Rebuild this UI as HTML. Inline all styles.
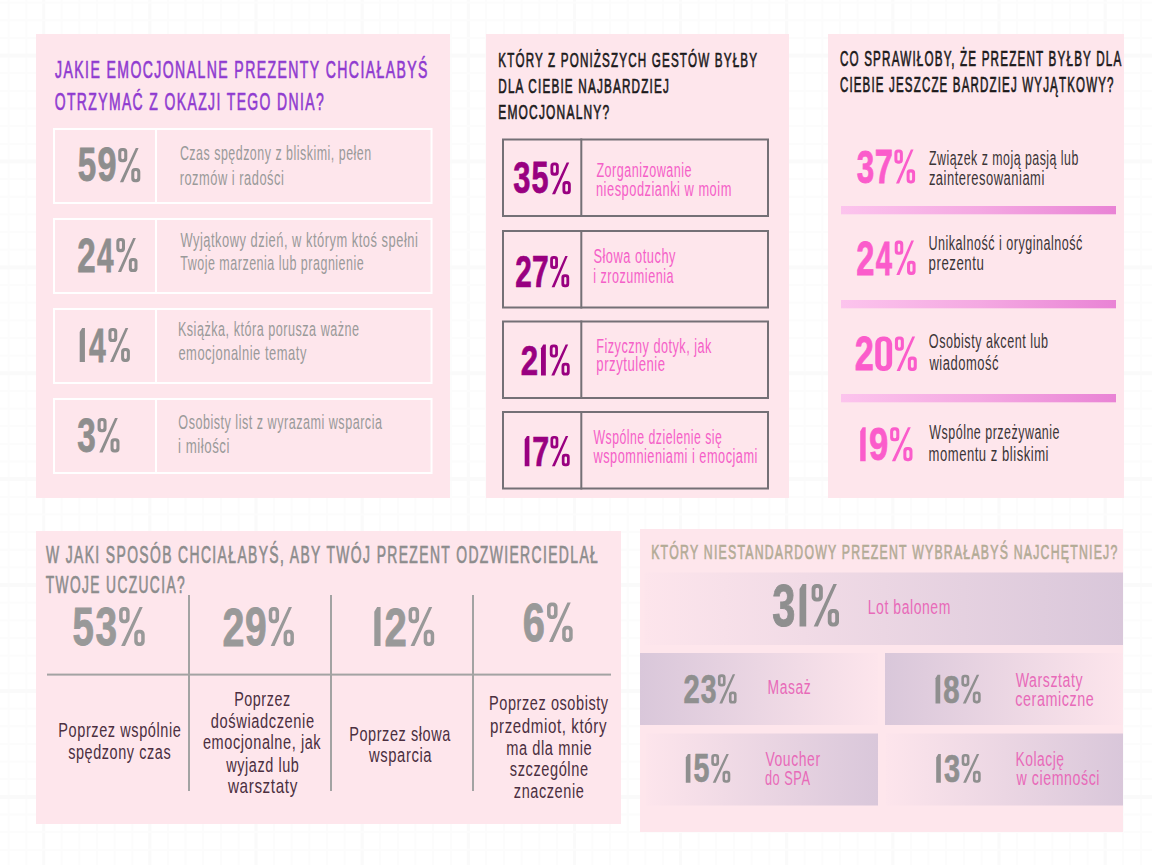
<!DOCTYPE html>
<html><head><meta charset="utf-8"><title>Infografika</title>
<style>html,body{margin:0;padding:0;background:#ffffff;width:1152px;height:865px;overflow:hidden}
svg{display:block;font-family:"Liberation Sans",sans-serif}</style></head>
<body><svg width="1152" height="865" viewBox="0 0 1152 865">
<defs>
<linearGradient id="g3" x1="0" y1="0" x2="1" y2="0"><stop offset="0" stop-color="#fcc4ed"/><stop offset="0.5" stop-color="#f4a9e2"/><stop offset="1" stop-color="#e983d5"/></linearGradient>
<linearGradient id="gPL" x1="0" y1="0" x2="1" y2="0"><stop offset="0" stop-color="#fde5ec"/><stop offset="1" stop-color="#d9c7da"/></linearGradient>
<linearGradient id="gLP" x1="0" y1="0" x2="1" y2="0"><stop offset="0" stop-color="#d9c7da"/><stop offset="1" stop-color="#fde5ec"/></linearGradient>
</defs>
<rect x="0" y="0" width="1152" height="865" fill="#ffffff"/>

<rect x="7.60" y="0.00" width="2.00" height="865.00" fill="#fcfcfc" />
<rect x="25.29" y="0.00" width="2.00" height="865.00" fill="#fcfcfc" />
<rect x="42.18" y="0.00" width="3.10" height="865.00" fill="#fafafa" />
<rect x="60.67" y="0.00" width="2.00" height="865.00" fill="#fcfcfc" />
<rect x="78.36" y="0.00" width="2.00" height="865.00" fill="#fcfcfc" />
<rect x="96.05" y="0.00" width="2.00" height="865.00" fill="#fcfcfc" />
<rect x="113.74" y="0.00" width="2.00" height="865.00" fill="#fcfcfc" />
<rect x="131.43" y="0.00" width="2.00" height="865.00" fill="#fcfcfc" />
<rect x="148.32" y="0.00" width="3.10" height="865.00" fill="#fafafa" />
<rect x="166.81" y="0.00" width="2.00" height="865.00" fill="#fcfcfc" />
<rect x="184.50" y="0.00" width="2.00" height="865.00" fill="#fcfcfc" />
<rect x="202.19" y="0.00" width="2.00" height="865.00" fill="#fcfcfc" />
<rect x="219.88" y="0.00" width="2.00" height="865.00" fill="#fcfcfc" />
<rect x="237.57" y="0.00" width="2.00" height="865.00" fill="#fcfcfc" />
<rect x="254.46" y="0.00" width="3.10" height="865.00" fill="#fafafa" />
<rect x="272.95" y="0.00" width="2.00" height="865.00" fill="#fcfcfc" />
<rect x="290.64" y="0.00" width="2.00" height="865.00" fill="#fcfcfc" />
<rect x="308.33" y="0.00" width="2.00" height="865.00" fill="#fcfcfc" />
<rect x="326.02" y="0.00" width="2.00" height="865.00" fill="#fcfcfc" />
<rect x="343.71" y="0.00" width="2.00" height="865.00" fill="#fcfcfc" />
<rect x="360.60" y="0.00" width="3.10" height="865.00" fill="#fafafa" />
<rect x="379.09" y="0.00" width="2.00" height="865.00" fill="#fcfcfc" />
<rect x="396.78" y="0.00" width="2.00" height="865.00" fill="#fcfcfc" />
<rect x="414.47" y="0.00" width="2.00" height="865.00" fill="#fcfcfc" />
<rect x="432.16" y="0.00" width="2.00" height="865.00" fill="#fcfcfc" />
<rect x="449.85" y="0.00" width="2.00" height="865.00" fill="#fcfcfc" />
<rect x="466.74" y="0.00" width="3.10" height="865.00" fill="#fafafa" />
<rect x="485.23" y="0.00" width="2.00" height="865.00" fill="#fcfcfc" />
<rect x="502.92" y="0.00" width="2.00" height="865.00" fill="#fcfcfc" />
<rect x="520.61" y="0.00" width="2.00" height="865.00" fill="#fcfcfc" />
<rect x="538.30" y="0.00" width="2.00" height="865.00" fill="#fcfcfc" />
<rect x="555.99" y="0.00" width="2.00" height="865.00" fill="#fcfcfc" />
<rect x="572.88" y="0.00" width="3.10" height="865.00" fill="#fafafa" />
<rect x="591.37" y="0.00" width="2.00" height="865.00" fill="#fcfcfc" />
<rect x="609.06" y="0.00" width="2.00" height="865.00" fill="#fcfcfc" />
<rect x="626.75" y="0.00" width="2.00" height="865.00" fill="#fcfcfc" />
<rect x="644.44" y="0.00" width="2.00" height="865.00" fill="#fcfcfc" />
<rect x="662.13" y="0.00" width="2.00" height="865.00" fill="#fcfcfc" />
<rect x="679.02" y="0.00" width="3.10" height="865.00" fill="#fafafa" />
<rect x="697.51" y="0.00" width="2.00" height="865.00" fill="#fcfcfc" />
<rect x="715.20" y="0.00" width="2.00" height="865.00" fill="#fcfcfc" />
<rect x="732.89" y="0.00" width="2.00" height="865.00" fill="#fcfcfc" />
<rect x="750.58" y="0.00" width="2.00" height="865.00" fill="#fcfcfc" />
<rect x="768.27" y="0.00" width="2.00" height="865.00" fill="#fcfcfc" />
<rect x="785.16" y="0.00" width="3.10" height="865.00" fill="#fafafa" />
<rect x="803.65" y="0.00" width="2.00" height="865.00" fill="#fcfcfc" />
<rect x="821.34" y="0.00" width="2.00" height="865.00" fill="#fcfcfc" />
<rect x="839.03" y="0.00" width="2.00" height="865.00" fill="#fcfcfc" />
<rect x="856.72" y="0.00" width="2.00" height="865.00" fill="#fcfcfc" />
<rect x="874.41" y="0.00" width="2.00" height="865.00" fill="#fcfcfc" />
<rect x="891.30" y="0.00" width="3.10" height="865.00" fill="#fafafa" />
<rect x="909.79" y="0.00" width="2.00" height="865.00" fill="#fcfcfc" />
<rect x="927.48" y="0.00" width="2.00" height="865.00" fill="#fcfcfc" />
<rect x="945.17" y="0.00" width="2.00" height="865.00" fill="#fcfcfc" />
<rect x="962.86" y="0.00" width="2.00" height="865.00" fill="#fcfcfc" />
<rect x="980.55" y="0.00" width="2.00" height="865.00" fill="#fcfcfc" />
<rect x="997.44" y="0.00" width="3.10" height="865.00" fill="#fafafa" />
<rect x="1015.93" y="0.00" width="2.00" height="865.00" fill="#fcfcfc" />
<rect x="1033.62" y="0.00" width="2.00" height="865.00" fill="#fcfcfc" />
<rect x="1051.31" y="0.00" width="2.00" height="865.00" fill="#fcfcfc" />
<rect x="1069.00" y="0.00" width="2.00" height="865.00" fill="#fcfcfc" />
<rect x="1086.69" y="0.00" width="2.00" height="865.00" fill="#fcfcfc" />
<rect x="1103.58" y="0.00" width="3.10" height="865.00" fill="#fafafa" />
<rect x="1122.07" y="0.00" width="2.00" height="865.00" fill="#fcfcfc" />
<rect x="1139.76" y="0.00" width="2.00" height="865.00" fill="#fcfcfc" />
<rect x="0.00" y="1.60" width="1152.00" height="2.00" fill="#fcfcfc" />
<rect x="0.00" y="19.25" width="1152.00" height="2.00" fill="#fcfcfc" />
<rect x="0.00" y="36.90" width="1152.00" height="2.00" fill="#fcfcfc" />
<rect x="0.00" y="53.55" width="1152.00" height="4.00" fill="#fafafa" />
<rect x="0.00" y="72.20" width="1152.00" height="2.00" fill="#fcfcfc" />
<rect x="0.00" y="89.85" width="1152.00" height="2.00" fill="#fcfcfc" />
<rect x="0.00" y="107.50" width="1152.00" height="2.00" fill="#fcfcfc" />
<rect x="0.00" y="125.15" width="1152.00" height="2.00" fill="#fcfcfc" />
<rect x="0.00" y="142.80" width="1152.00" height="2.00" fill="#fcfcfc" />
<rect x="0.00" y="159.45" width="1152.00" height="4.00" fill="#fafafa" />
<rect x="0.00" y="178.10" width="1152.00" height="2.00" fill="#fcfcfc" />
<rect x="0.00" y="195.75" width="1152.00" height="2.00" fill="#fcfcfc" />
<rect x="0.00" y="213.40" width="1152.00" height="2.00" fill="#fcfcfc" />
<rect x="0.00" y="231.05" width="1152.00" height="2.00" fill="#fcfcfc" />
<rect x="0.00" y="248.70" width="1152.00" height="2.00" fill="#fcfcfc" />
<rect x="0.00" y="265.35" width="1152.00" height="4.00" fill="#fafafa" />
<rect x="0.00" y="284.00" width="1152.00" height="2.00" fill="#fcfcfc" />
<rect x="0.00" y="301.65" width="1152.00" height="2.00" fill="#fcfcfc" />
<rect x="0.00" y="319.30" width="1152.00" height="2.00" fill="#fcfcfc" />
<rect x="0.00" y="336.95" width="1152.00" height="2.00" fill="#fcfcfc" />
<rect x="0.00" y="354.60" width="1152.00" height="2.00" fill="#fcfcfc" />
<rect x="0.00" y="371.25" width="1152.00" height="4.00" fill="#fafafa" />
<rect x="0.00" y="389.90" width="1152.00" height="2.00" fill="#fcfcfc" />
<rect x="0.00" y="407.55" width="1152.00" height="2.00" fill="#fcfcfc" />
<rect x="0.00" y="425.20" width="1152.00" height="2.00" fill="#fcfcfc" />
<rect x="0.00" y="442.85" width="1152.00" height="2.00" fill="#fcfcfc" />
<rect x="0.00" y="460.50" width="1152.00" height="2.00" fill="#fcfcfc" />
<rect x="0.00" y="477.15" width="1152.00" height="4.00" fill="#fafafa" />
<rect x="0.00" y="495.80" width="1152.00" height="2.00" fill="#fcfcfc" />
<rect x="0.00" y="513.45" width="1152.00" height="2.00" fill="#fcfcfc" />
<rect x="0.00" y="531.10" width="1152.00" height="2.00" fill="#fcfcfc" />
<rect x="0.00" y="548.75" width="1152.00" height="2.00" fill="#fcfcfc" />
<rect x="0.00" y="566.40" width="1152.00" height="2.00" fill="#fcfcfc" />
<rect x="0.00" y="583.05" width="1152.00" height="4.00" fill="#fafafa" />
<rect x="0.00" y="601.70" width="1152.00" height="2.00" fill="#fcfcfc" />
<rect x="0.00" y="619.35" width="1152.00" height="2.00" fill="#fcfcfc" />
<rect x="0.00" y="637.00" width="1152.00" height="2.00" fill="#fcfcfc" />
<rect x="0.00" y="654.65" width="1152.00" height="2.00" fill="#fcfcfc" />
<rect x="0.00" y="672.30" width="1152.00" height="2.00" fill="#fcfcfc" />
<rect x="0.00" y="688.95" width="1152.00" height="4.00" fill="#fafafa" />
<rect x="0.00" y="707.60" width="1152.00" height="2.00" fill="#fcfcfc" />
<rect x="0.00" y="725.25" width="1152.00" height="2.00" fill="#fcfcfc" />
<rect x="0.00" y="742.90" width="1152.00" height="2.00" fill="#fcfcfc" />
<rect x="0.00" y="760.55" width="1152.00" height="2.00" fill="#fcfcfc" />
<rect x="0.00" y="778.20" width="1152.00" height="2.00" fill="#fcfcfc" />
<rect x="0.00" y="794.85" width="1152.00" height="4.00" fill="#fafafa" />
<rect x="0.00" y="813.50" width="1152.00" height="2.00" fill="#fcfcfc" />
<rect x="0.00" y="831.15" width="1152.00" height="2.00" fill="#fcfcfc" />
<rect x="0.00" y="848.80" width="1152.00" height="2.00" fill="#fcfcfc" />
<rect x="0.00" y="866.45" width="1152.00" height="2.00" fill="#fcfcfc" />
<rect x="36.00" y="34.00" width="414.00" height="464.00" fill="#fee6ec" />
<rect x="486.00" y="34.00" width="303.00" height="464.00" fill="#fee6ec" />
<rect x="828.00" y="34.00" width="296.00" height="464.00" fill="#fee6ec" />
<rect x="36.00" y="531.00" width="585.00" height="293.00" fill="#fee6ec" />
<rect x="640.00" y="529.00" width="483.00" height="303.00" fill="#fee6ec" />
<text transform="matrix(0.5792 0 0 1 55.06 78.32)" font-size="24.30" letter-spacing="2.43" fill="#8f3ad0" stroke="#8f3ad0" stroke-width="0.55" vector-effect="non-scaling-stroke">JAKIE EMOCJONALNE PREZENTY CHCIAŁABYŚ</text>
<text transform="matrix(0.5744 0 0 1 54.65 109.72)" font-size="24.30" letter-spacing="2.43" fill="#8f3ad0" stroke="#8f3ad0" stroke-width="0.55" vector-effect="non-scaling-stroke">OTRZYMAĆ Z OKAZJI TEGO DNIA?</text>
<rect x="54" y="129" width="377.5" height="74" fill="none" stroke="#ffffff" stroke-width="2"/>
<rect x="155.00" y="128.00" width="2.00" height="76.00" fill="#ffffff" />
<rect x="54" y="219" width="377.5" height="74" fill="none" stroke="#ffffff" stroke-width="2"/>
<rect x="155.00" y="218.00" width="2.00" height="76.00" fill="#ffffff" />
<rect x="54" y="309" width="377.5" height="74" fill="none" stroke="#ffffff" stroke-width="2"/>
<rect x="155.00" y="308.00" width="2.00" height="76.00" fill="#ffffff" />
<rect x="54" y="399" width="377.5" height="74" fill="none" stroke="#ffffff" stroke-width="2"/>
<rect x="155.00" y="398.00" width="2.00" height="76.00" fill="#ffffff" />
<text transform="matrix(0.6931 0 0 1 77.83 181.42)" font-size="47.85" font-weight="700" fill="#8e8e8e" stroke="#8e8e8e" stroke-width="0.81" stroke-linejoin="miter">5</text>
<text transform="matrix(0.7247 0 0 1 97.44 181.42)" font-size="47.17" font-weight="700" fill="#8e8e8e" stroke="#8e8e8e" stroke-width="0.81" stroke-linejoin="miter">9</text>
<path fill-rule="evenodd" d="M122.03 148.00H123.48A3.80 3.80 0 0 1 127.28 151.80V158.43A3.80 3.80 0 0 1 123.48 162.23H122.03A3.80 3.80 0 0 1 118.23 158.43V151.80A3.80 3.80 0 0 1 122.03 148.00ZM122.75 151.05H122.75A1.47 1.47 0 0 1 124.22 152.52V157.71A1.47 1.47 0 0 1 122.75 159.18H122.75A1.47 1.47 0 0 1 121.28 157.71V152.52A1.47 1.47 0 0 1 122.75 151.05ZM135.05 168.07H136.50A3.80 3.80 0 0 1 140.30 171.87V178.50A3.80 3.80 0 0 1 136.50 182.30H135.05A3.80 3.80 0 0 1 131.25 178.50V171.87A3.80 3.80 0 0 1 135.05 168.07ZM135.78 171.12H135.78A1.47 1.47 0 0 1 137.25 172.59V177.78A1.47 1.47 0 0 1 135.78 179.25H135.78A1.47 1.47 0 0 1 134.30 177.78V172.59A1.47 1.47 0 0 1 135.78 171.12ZM119.93 182.30L123.30 182.30L138.60 148.00L135.78 148.00Z" fill="#8e8e8e"/>
<text transform="matrix(0.6961 0 0 1 77.37 271.70)" font-size="47.57" font-weight="700" fill="#8e8e8e" stroke="#8e8e8e" stroke-width="0.80" stroke-linejoin="miter">2</text>
<text transform="matrix(0.6156 0 0 1 97.09 271.70)" font-size="48.26" font-weight="700" fill="#8e8e8e" stroke="#8e8e8e" stroke-width="0.80" stroke-linejoin="miter">4</text>
<path fill-rule="evenodd" d="M119.97 238.00H121.36A3.65 3.65 0 0 1 125.00 241.65V248.50A3.65 3.65 0 0 1 121.36 252.15H119.97A3.65 3.65 0 0 1 116.32 248.50V241.65A3.65 3.65 0 0 1 119.97 238.00ZM120.66 241.03H120.66A1.31 1.31 0 0 1 121.97 242.34V247.81A1.31 1.31 0 0 1 120.66 249.12H120.66A1.31 1.31 0 0 1 119.36 247.81V242.34A1.31 1.31 0 0 1 120.66 241.03ZM132.46 257.95H133.85A3.65 3.65 0 0 1 137.50 261.60V268.45A3.65 3.65 0 0 1 133.85 272.10H132.46A3.65 3.65 0 0 1 128.82 268.45V261.60A3.65 3.65 0 0 1 132.46 257.95ZM133.16 260.98H133.16A1.31 1.31 0 0 1 134.47 262.29V267.76A1.31 1.31 0 0 1 133.16 269.07H133.16A1.31 1.31 0 0 1 131.85 267.76V262.29A1.31 1.31 0 0 1 133.16 260.98ZM117.95 272.10L121.19 272.10L135.87 238.00L133.16 238.00Z" fill="#8e8e8e"/>
<path d="M79.70 332.08L82.18 328.00L84.94 328.00L84.94 362.00L79.70 362.00Z" fill="#8e8e8e"/>
<text transform="matrix(0.6261 0 0 1 88.94 361.60)" font-size="48.12" font-weight="700" fill="#8e8e8e" stroke="#8e8e8e" stroke-width="0.80" stroke-linejoin="miter">4</text>
<path fill-rule="evenodd" d="M112.13 328.00H113.54A3.70 3.70 0 0 1 117.24 331.70V338.41A3.70 3.70 0 0 1 113.54 342.11H112.13A3.70 3.70 0 0 1 108.43 338.41V331.70A3.70 3.70 0 0 1 112.13 328.00ZM112.83 331.03H112.83A1.37 1.37 0 0 1 114.21 332.40V337.71A1.37 1.37 0 0 1 112.83 339.08H112.83A1.37 1.37 0 0 1 111.46 337.71V332.40A1.37 1.37 0 0 1 112.83 331.03ZM124.80 347.89H126.20A3.70 3.70 0 0 1 129.90 351.59V358.30A3.70 3.70 0 0 1 126.20 362.00H124.80A3.70 3.70 0 0 1 121.10 358.30V351.59A3.70 3.70 0 0 1 124.80 347.89ZM125.50 350.92H125.50A1.37 1.37 0 0 1 126.87 352.29V357.60A1.37 1.37 0 0 1 125.50 358.97H125.50A1.37 1.37 0 0 1 124.12 357.60V352.29A1.37 1.37 0 0 1 125.50 350.92ZM110.09 362.00L113.37 362.00L128.25 328.00L125.50 328.00Z" fill="#8e8e8e"/>
<text transform="matrix(0.7009 0 0 1 77.30 451.62)" font-size="47.45" font-weight="700" fill="#8e8e8e" stroke="#8e8e8e" stroke-width="0.81" stroke-linejoin="miter">3</text>
<path fill-rule="evenodd" d="M101.35 418.00H102.79A3.77 3.77 0 0 1 106.57 421.77V428.54A3.77 3.77 0 0 1 102.79 432.32H101.35A3.77 3.77 0 0 1 97.58 428.54V421.77A3.77 3.77 0 0 1 101.35 418.00ZM102.07 421.07H102.07A1.42 1.42 0 0 1 103.50 422.49V427.82A1.42 1.42 0 0 1 102.07 429.25H102.07A1.42 1.42 0 0 1 100.65 427.82V422.49A1.42 1.42 0 0 1 102.07 421.07ZM114.29 438.18H115.73A3.77 3.77 0 0 1 119.50 441.96V448.73A3.77 3.77 0 0 1 115.73 452.50H114.29A3.77 3.77 0 0 1 110.51 448.73V441.96A3.77 3.77 0 0 1 114.29 438.18ZM115.01 441.25H115.01A1.42 1.42 0 0 1 116.43 442.68V448.01A1.42 1.42 0 0 1 115.01 449.43H115.01A1.42 1.42 0 0 1 113.58 448.01V442.68A1.42 1.42 0 0 1 115.01 441.25ZM99.27 452.50L102.62 452.50L117.81 418.00L115.01 418.00Z" fill="#8e8e8e"/>
<text transform="matrix(0.6319 0 0 1 179.88 160.30)" font-size="19.70" letter-spacing="0.79" fill="#9a9a9a">Czas spędzony z bliskimi, pełen</text>
<text transform="matrix(0.6528 0 0 1 179.66 184.70)" font-size="19.70" letter-spacing="0.79" fill="#9a9a9a">rozmów i radości</text>
<text transform="matrix(0.6542 0 0 1 180.44 246.50)" font-size="19.70" letter-spacing="0.79" fill="#9a9a9a">Wyjątkowy dzień, w którym ktoś spełni</text>
<text transform="matrix(0.6347 0 0 1 180.25 270.40)" font-size="19.70" letter-spacing="0.79" fill="#9a9a9a">Twoje marzenia lub pragnienie</text>
<text transform="matrix(0.6409 0 0 1 177.89 336.20)" font-size="19.70" letter-spacing="0.79" fill="#9a9a9a">Książka, która porusza ważne</text>
<text transform="matrix(0.6571 0 0 1 178.38 360.40)" font-size="19.70" letter-spacing="0.79" fill="#9a9a9a">emocjonalnie tematy</text>
<text transform="matrix(0.6397 0 0 1 178.33 429.30)" font-size="19.70" letter-spacing="0.79" fill="#9a9a9a">Osobisty list z wyrazami wsparcia</text>
<text transform="matrix(0.6737 0 0 1 178.04 452.70)" font-size="19.70" letter-spacing="0.79" fill="#9a9a9a">i miłości</text>
<text transform="matrix(0.5595 0 0 1 498.24 67.02)" font-size="20.80" letter-spacing="2.08" fill="#1c1a1b" stroke="#1c1a1b" stroke-width="0.55" vector-effect="non-scaling-stroke">KTÓRY Z PONIŻSZYCH GESTÓW BYŁBY</text>
<text transform="matrix(0.5642 0 0 1 498.24 93.12)" font-size="20.80" letter-spacing="2.08" fill="#1c1a1b" stroke="#1c1a1b" stroke-width="0.55" vector-effect="non-scaling-stroke">DLA CIEBIE NAJBARDZIEJ</text>
<text transform="matrix(0.5757 0 0 1 498.22 119.42)" font-size="20.80" letter-spacing="2.08" fill="#1c1a1b" stroke="#1c1a1b" stroke-width="0.55" vector-effect="non-scaling-stroke">EMOCJONALNY?</text>
<rect x="503" y="139.50" width="265" height="76.5" fill="none" stroke="#747076" stroke-width="2"/>
<rect x="580.30" y="138.50" width="2.00" height="78.50" fill="#747076" />
<rect x="503" y="231.00" width="265" height="76.5" fill="none" stroke="#747076" stroke-width="2"/>
<rect x="580.30" y="230.00" width="2.00" height="78.50" fill="#747076" />
<rect x="503" y="321.50" width="265" height="76.5" fill="none" stroke="#747076" stroke-width="2"/>
<rect x="580.30" y="320.50" width="2.00" height="78.50" fill="#747076" />
<rect x="503" y="412.00" width="265" height="76.5" fill="none" stroke="#747076" stroke-width="2"/>
<rect x="580.30" y="411.00" width="2.00" height="78.50" fill="#747076" />
<text transform="matrix(0.7039 0 0 1 513.34 193.49)" font-size="43.87" font-weight="700" fill="#990080" stroke="#990080" stroke-width="0.75" stroke-linejoin="miter">3</text>
<text transform="matrix(0.6871 0 0 1 531.47 193.48)" font-size="44.50" font-weight="700" fill="#990080" stroke="#990080" stroke-width="0.75" stroke-linejoin="miter">5</text>
<path fill-rule="evenodd" d="M553.95 162.40H555.28A3.51 3.51 0 0 1 558.79 165.91V172.13A3.51 3.51 0 0 1 555.28 175.64H553.95A3.51 3.51 0 0 1 550.44 172.13V165.91A3.51 3.51 0 0 1 553.95 162.40ZM554.62 165.24H554.62A1.33 1.33 0 0 1 555.95 166.57V171.47A1.33 1.33 0 0 1 554.62 172.80H554.62A1.33 1.33 0 0 1 553.28 171.47V166.57A1.33 1.33 0 0 1 554.62 165.24ZM565.96 181.06H567.29A3.51 3.51 0 0 1 570.80 184.57V190.79A3.51 3.51 0 0 1 567.29 194.30H565.96A3.51 3.51 0 0 1 562.45 190.79V184.57A3.51 3.51 0 0 1 565.96 181.06ZM566.63 183.90H566.63A1.33 1.33 0 0 1 567.96 185.23V190.13A1.33 1.33 0 0 1 566.63 191.46H566.63A1.33 1.33 0 0 1 565.29 190.13V185.23A1.33 1.33 0 0 1 566.63 183.90ZM552.01 194.30L555.13 194.30L569.23 162.40L566.63 162.40Z" fill="#990080"/>
<text transform="matrix(0.6788 0 0 1 515.17 286.93)" font-size="43.80" font-weight="700" fill="#990080" stroke="#990080" stroke-width="0.74" stroke-linejoin="miter">2</text>
<text transform="matrix(0.6762 0 0 1 532.09 286.93)" font-size="44.44" font-weight="700" fill="#990080" stroke="#990080" stroke-width="0.74" stroke-linejoin="miter">7</text>
<path fill-rule="evenodd" d="M553.45 255.90H554.69A3.28 3.28 0 0 1 557.97 259.18V265.65A3.28 3.28 0 0 1 554.69 268.93H553.45A3.28 3.28 0 0 1 550.17 265.65V259.18A3.28 3.28 0 0 1 553.45 255.90ZM554.07 258.69H554.07A1.11 1.11 0 0 1 555.18 259.80V265.03A1.11 1.11 0 0 1 554.07 266.14H554.07A1.11 1.11 0 0 1 552.96 265.03V259.80A1.11 1.11 0 0 1 554.07 258.69ZM564.67 274.27H565.92A3.28 3.28 0 0 1 569.20 277.55V284.02A3.28 3.28 0 0 1 565.92 287.30H564.67A3.28 3.28 0 0 1 561.40 284.02V277.55A3.28 3.28 0 0 1 564.67 274.27ZM565.30 277.06H565.30A1.11 1.11 0 0 1 566.41 278.17V283.40A1.11 1.11 0 0 1 565.30 284.51H565.30A1.11 1.11 0 0 1 564.19 283.40V278.17A1.11 1.11 0 0 1 565.30 277.06ZM551.63 287.30L554.55 287.30L567.73 255.90L565.30 255.90Z" fill="#990080"/>
<text transform="matrix(0.7209 0 0 1 520.81 375.24)" font-size="43.24" font-weight="700" fill="#990080" stroke="#990080" stroke-width="0.73" stroke-linejoin="miter">2</text>
<path d="M540.99 348.32L543.26 344.60L545.86 344.60L545.86 375.60L540.99 375.60Z" fill="#990080"/>
<path fill-rule="evenodd" d="M553.21 344.60H554.52A3.43 3.43 0 0 1 557.95 348.03V354.03A3.43 3.43 0 0 1 554.52 357.47H553.21A3.43 3.43 0 0 1 549.78 354.03V348.03A3.43 3.43 0 0 1 553.21 344.60ZM553.86 347.36H553.86A1.32 1.32 0 0 1 555.19 348.68V353.38A1.32 1.32 0 0 1 553.86 354.71H553.86A1.32 1.32 0 0 1 552.54 353.38V348.68A1.32 1.32 0 0 1 553.86 347.36ZM564.96 362.74H566.27A3.43 3.43 0 0 1 569.70 366.17V372.17A3.43 3.43 0 0 1 566.27 375.60H564.96A3.43 3.43 0 0 1 561.53 372.17V366.17A3.43 3.43 0 0 1 564.96 362.74ZM565.62 365.49H565.62A1.32 1.32 0 0 1 566.94 366.82V371.52A1.32 1.32 0 0 1 565.62 372.84H565.62A1.32 1.32 0 0 1 564.29 371.52V366.82A1.32 1.32 0 0 1 565.62 365.49ZM551.31 375.60L554.36 375.60L568.17 344.60L565.62 344.60Z" fill="#990080"/>
<path d="M524.70 439.55L526.92 435.90L529.40 435.90L529.40 466.30L524.70 466.30Z" fill="#990080"/>
<text transform="matrix(0.7070 0 0 1 532.17 465.94)" font-size="43.02" font-weight="700" fill="#990080" stroke="#990080" stroke-width="0.72" stroke-linejoin="miter">7</text>
<path fill-rule="evenodd" d="M553.77 435.90H555.03A3.31 3.31 0 0 1 558.35 439.21V445.20A3.31 3.31 0 0 1 555.03 448.52H553.77A3.31 3.31 0 0 1 550.46 445.20V439.21A3.31 3.31 0 0 1 553.77 435.90ZM554.40 438.61H554.40A1.24 1.24 0 0 1 555.64 439.84V444.57A1.24 1.24 0 0 1 554.40 445.81H554.40A1.24 1.24 0 0 1 553.16 444.57V439.84A1.24 1.24 0 0 1 554.40 438.61ZM565.12 453.68H566.39A3.31 3.31 0 0 1 569.70 457.00V462.99A3.31 3.31 0 0 1 566.39 466.30H565.12A3.31 3.31 0 0 1 561.81 462.99V457.00A3.31 3.31 0 0 1 565.12 453.68ZM565.76 456.39H565.76A1.24 1.24 0 0 1 566.99 457.63V462.36A1.24 1.24 0 0 1 565.76 463.59H565.76A1.24 1.24 0 0 1 564.52 462.36V457.63A1.24 1.24 0 0 1 565.76 456.39ZM551.94 466.30L554.88 466.30L568.22 435.90L565.76 435.90Z" fill="#990080"/>
<text transform="matrix(0.6411 0 0 1 596.42 176.50)" font-size="19.60" letter-spacing="0.78" fill="#f560c8">Zorganizowanie</text>
<text transform="matrix(0.6559 0 0 1 595.96 196.30)" font-size="19.60" letter-spacing="0.78" fill="#f560c8">niespodzianki w moim</text>
<text transform="matrix(0.6561 0 0 1 593.42 263.30)" font-size="19.60" letter-spacing="0.78" fill="#f560c8">Słowa otuchy</text>
<text transform="matrix(0.6441 0 0 1 593.18 283.10)" font-size="19.60" letter-spacing="0.78" fill="#f560c8">i zrozumienia</text>
<text transform="matrix(0.6458 0 0 1 596.19 352.60)" font-size="19.60" letter-spacing="0.78" fill="#f560c8">Fizyczny dotyk, jak</text>
<text transform="matrix(0.6700 0 0 1 596.35 370.60)" font-size="19.60" letter-spacing="0.78" fill="#f560c8">przytulenie</text>
<text transform="matrix(0.6262 0 0 1 593.44 444.00)" font-size="19.60" letter-spacing="0.78" fill="#f560c8">Wspólne dzielenie się</text>
<text transform="matrix(0.6509 0 0 1 593.50 463.10)" font-size="19.60" letter-spacing="0.78" fill="#f560c8">wspomnieniami i emocjami</text>
<text transform="matrix(0.5512 0 0 1 839.89 66.42)" font-size="21.20" letter-spacing="2.12" fill="#1c1a1b" stroke="#1c1a1b" stroke-width="0.55" vector-effect="non-scaling-stroke">CO SPRAWIŁOBY, ŻE PREZENT BYŁBY DLA</text>
<text transform="matrix(0.5450 0 0 1 839.90 92.42)" font-size="21.20" letter-spacing="2.12" fill="#1c1a1b" stroke="#1c1a1b" stroke-width="0.55" vector-effect="non-scaling-stroke">CIEBIE JESZCZE BARDZIEJ WYJĄTKOWY?</text>
<rect x="841.00" y="206.00" width="275.00" height="8.30" fill="url(#g3)" />
<rect x="841.00" y="300.00" width="275.00" height="8.30" fill="url(#g3)" />
<rect x="841.00" y="394.00" width="275.00" height="8.30" fill="url(#g3)" />
<text transform="matrix(0.6753 0 0 1 856.64 182.54)" font-size="46.49" font-weight="700" fill="#fb5ccb" stroke="#fb5ccb" stroke-width="0.80" stroke-linejoin="miter">3</text>
<text transform="matrix(0.6839 0 0 1 874.71 183.00)" font-size="47.83" font-weight="700" fill="#fb5ccb" stroke="#fb5ccb" stroke-width="0.80" stroke-linejoin="miter">7</text>
<path fill-rule="evenodd" d="M897.95 149.60H899.31A3.57 3.57 0 0 1 902.88 153.17V160.06A3.57 3.57 0 0 1 899.31 163.63H897.95A3.57 3.57 0 0 1 894.39 160.06V153.17A3.57 3.57 0 0 1 897.95 149.60ZM898.63 152.61H898.63A1.24 1.24 0 0 1 899.87 153.85V159.38A1.24 1.24 0 0 1 898.63 160.62H898.63A1.24 1.24 0 0 1 897.39 159.38V153.85A1.24 1.24 0 0 1 898.63 152.61ZM910.17 169.37H911.53A3.57 3.57 0 0 1 915.10 172.94V179.83A3.57 3.57 0 0 1 911.53 183.40H910.17A3.57 3.57 0 0 1 906.61 179.83V172.94A3.57 3.57 0 0 1 910.17 169.37ZM910.85 172.38H910.85A1.24 1.24 0 0 1 912.09 173.62V179.15A1.24 1.24 0 0 1 910.85 180.39H910.85A1.24 1.24 0 0 1 909.62 179.15V173.62A1.24 1.24 0 0 1 910.85 172.38ZM895.98 183.40L899.15 183.40L913.51 149.60L910.85 149.60Z" fill="#fb5ccb"/>
<text transform="matrix(0.6823 0 0 1 856.28 274.50)" font-size="47.85" font-weight="700" fill="#fb5ccb" stroke="#fb5ccb" stroke-width="0.81" stroke-linejoin="miter">2</text>
<text transform="matrix(0.6034 0 0 1 875.74 274.50)" font-size="48.54" font-weight="700" fill="#fb5ccb" stroke="#fb5ccb" stroke-width="0.81" stroke-linejoin="miter">4</text>
<path fill-rule="evenodd" d="M898.31 240.60H899.68A3.60 3.60 0 0 1 903.27 244.20V251.24A3.60 3.60 0 0 1 899.68 254.83H898.31A3.60 3.60 0 0 1 894.71 251.24V244.20A3.60 3.60 0 0 1 898.31 240.60ZM898.99 243.65H898.99A1.23 1.23 0 0 1 900.22 244.88V250.55A1.23 1.23 0 0 1 898.99 251.78H898.99A1.23 1.23 0 0 1 897.76 250.55V244.88A1.23 1.23 0 0 1 898.99 243.65ZM910.63 260.67H912.00A3.60 3.60 0 0 1 915.60 264.26V271.30A3.60 3.60 0 0 1 912.00 274.90H910.63A3.60 3.60 0 0 1 907.03 271.30V264.26A3.60 3.60 0 0 1 910.63 260.67ZM911.32 263.72H911.32A1.23 1.23 0 0 1 912.55 264.95V270.62A1.23 1.23 0 0 1 911.32 271.85H911.32A1.23 1.23 0 0 1 910.09 270.62V264.95A1.23 1.23 0 0 1 911.32 263.72ZM896.32 274.90L899.51 274.90L913.99 240.60L911.32 240.60Z" fill="#fb5ccb"/>
<text transform="matrix(0.7117 0 0 1 854.63 370.49)" font-size="48.13" font-weight="700" fill="#fb5ccb" stroke="#fb5ccb" stroke-width="0.81" stroke-linejoin="miter">2</text>
<path fill-rule="evenodd" d="M882.86 336.40H884.55A7.60 7.60 0 0 1 892.15 344.00V363.30A7.60 7.60 0 0 1 884.55 370.90H882.86A7.60 7.60 0 0 1 875.25 363.30V344.00A7.60 7.60 0 0 1 882.86 336.40ZM883.70 341.06H883.70A2.87 2.87 0 0 1 886.57 343.93V363.37A2.87 2.87 0 0 1 883.70 366.24H883.70A2.87 2.87 0 0 1 880.83 363.37V343.93A2.87 2.87 0 0 1 883.70 341.06Z" fill="#fb5ccb"/>
<path fill-rule="evenodd" d="M898.68 336.40H900.11A3.77 3.77 0 0 1 903.88 340.17V346.95A3.77 3.77 0 0 1 900.11 350.72H898.68A3.77 3.77 0 0 1 894.91 346.95V340.17A3.77 3.77 0 0 1 898.68 336.40ZM899.39 339.47H899.39A1.42 1.42 0 0 1 900.81 340.89V346.23A1.42 1.42 0 0 1 899.39 347.65H899.39A1.42 1.42 0 0 1 897.98 346.23V340.89A1.42 1.42 0 0 1 899.39 339.47ZM911.59 356.58H913.03A3.77 3.77 0 0 1 916.80 360.35V367.13A3.77 3.77 0 0 1 913.03 370.90H911.59A3.77 3.77 0 0 1 907.82 367.13V360.35A3.77 3.77 0 0 1 911.59 356.58ZM912.31 359.65H912.31A1.42 1.42 0 0 1 913.73 361.07V366.41A1.42 1.42 0 0 1 912.31 367.83H912.31A1.42 1.42 0 0 1 910.89 366.41V361.07A1.42 1.42 0 0 1 912.31 359.65ZM896.59 370.90L899.94 370.90L915.11 336.40L912.31 336.40Z" fill="#fb5ccb"/>
<path d="M860.20 431.28L862.68 427.20L865.66 427.20L865.66 461.20L860.20 461.20Z" fill="#fb5ccb"/>
<text transform="matrix(0.7412 0 0 1 869.07 460.33)" font-size="46.76" font-weight="700" fill="#fb5ccb" stroke="#fb5ccb" stroke-width="0.80" stroke-linejoin="miter">9</text>
<path fill-rule="evenodd" d="M893.99 427.20H895.45A3.85 3.85 0 0 1 899.31 431.05V437.46A3.85 3.85 0 0 1 895.45 441.31H893.99A3.85 3.85 0 0 1 890.14 437.46V431.05A3.85 3.85 0 0 1 893.99 427.20ZM894.72 430.23H894.72A1.56 1.56 0 0 1 896.28 431.78V436.73A1.56 1.56 0 0 1 894.72 438.28H894.72A1.56 1.56 0 0 1 893.16 436.73V431.78A1.56 1.56 0 0 1 894.72 430.23ZM907.18 447.09H908.65A3.85 3.85 0 0 1 912.50 450.94V457.35A3.85 3.85 0 0 1 908.65 461.20H907.18A3.85 3.85 0 0 1 903.33 457.35V450.94A3.85 3.85 0 0 1 907.18 447.09ZM907.92 450.12H907.92A1.56 1.56 0 0 1 909.47 451.67V456.62A1.56 1.56 0 0 1 907.92 458.17H907.92A1.56 1.56 0 0 1 906.36 456.62V451.67A1.56 1.56 0 0 1 907.92 450.12ZM891.86 461.20L895.28 461.20L910.78 427.20L907.92 427.20Z" fill="#fb5ccb"/>
<text transform="matrix(0.6406 0 0 1 929.03 164.70)" font-size="19.30" letter-spacing="0.77" fill="#3b3537">Związek z moją pasją lub</text>
<text transform="matrix(0.6707 0 0 1 928.88 184.90)" font-size="19.30" letter-spacing="0.77" fill="#3b3537">zainteresowaniami</text>
<text transform="matrix(0.6519 0 0 1 928.46 249.70)" font-size="19.30" letter-spacing="0.77" fill="#3b3537">Unikalność i oryginalność</text>
<text transform="matrix(0.6874 0 0 1 928.54 270.40)" font-size="19.30" letter-spacing="0.77" fill="#3b3537">prezentu</text>
<text transform="matrix(0.6549 0 0 1 928.83 348.30)" font-size="19.30" letter-spacing="0.77" fill="#3b3537">Osobisty akcent lub</text>
<text transform="matrix(0.6723 0 0 1 929.40 370.40)" font-size="19.30" letter-spacing="0.77" fill="#3b3537">wiadomość</text>
<text transform="matrix(0.6460 0 0 1 929.34 439.00)" font-size="19.30" letter-spacing="0.77" fill="#3b3537">Wspólne przeżywanie</text>
<text transform="matrix(0.6773 0 0 1 928.55 460.90)" font-size="19.30" letter-spacing="0.77" fill="#3b3537">momentu z bliskimi</text>
<text transform="matrix(0.5770 0 0 1 45.91 562.83)" font-size="24.10" letter-spacing="2.41" fill="#8c8c8c" stroke="#8c8c8c" stroke-width="0.55" vector-effect="non-scaling-stroke">W JAKI SPOSÓB CHCIAŁABYŚ, ABY TWÓJ PREZENT ODZWIERCIEDLAŁ</text>
<text transform="matrix(0.5724 0 0 1 45.70 593.33)" font-size="24.10" letter-spacing="2.41" fill="#8c8c8c" stroke="#8c8c8c" stroke-width="0.55" vector-effect="non-scaling-stroke">TWOJE UCZUCIA?</text>
<rect x="188.00" y="595.00" width="2.00" height="196.00" fill="#a3a3a3" />
<rect x="330.00" y="595.00" width="2.00" height="196.00" fill="#a3a3a3" />
<rect x="472.00" y="595.00" width="2.00" height="196.00" fill="#a3a3a3" />
<rect x="47.00" y="673.60" width="564.00" height="2.00" fill="#a3a3a3" />
<text transform="matrix(0.7057 0 0 1 72.41 645.00)" font-size="54.40" font-weight="700" fill="#999999" stroke="#999999" stroke-width="0.92" stroke-linejoin="miter">5</text>
<text transform="matrix(0.7230 0 0 1 95.52 645.00)" font-size="53.64" font-weight="700" fill="#999999" stroke="#999999" stroke-width="0.92" stroke-linejoin="miter">3</text>
<path fill-rule="evenodd" d="M123.56 607.00H125.23A4.40 4.40 0 0 1 129.63 611.40V618.79A4.40 4.40 0 0 1 125.23 623.18H123.56A4.40 4.40 0 0 1 119.16 618.79V611.40A4.40 4.40 0 0 1 123.56 607.00ZM124.39 610.47H124.39A1.77 1.77 0 0 1 126.16 612.24V617.95A1.77 1.77 0 0 1 124.39 619.71H124.39A1.77 1.77 0 0 1 122.63 617.95V612.24A1.77 1.77 0 0 1 124.39 610.47ZM138.63 629.82H140.30A4.40 4.40 0 0 1 144.70 634.21V641.60A4.40 4.40 0 0 1 140.30 646.00H138.63A4.40 4.40 0 0 1 134.23 641.60V634.21A4.40 4.40 0 0 1 138.63 629.82ZM139.46 633.29H139.46A1.77 1.77 0 0 1 141.23 635.05V640.76A1.77 1.77 0 0 1 139.46 642.53H139.46A1.77 1.77 0 0 1 137.70 640.76V635.05A1.77 1.77 0 0 1 139.46 633.29ZM121.12 646.00L125.03 646.00L142.73 607.00L139.46 607.00Z" fill="#999999"/>
<text transform="matrix(0.7235 0 0 1 222.48 645.54)" font-size="54.40" font-weight="700" fill="#999999" stroke="#999999" stroke-width="0.92" stroke-linejoin="miter">2</text>
<text transform="matrix(0.7263 0 0 1 245.07 645.00)" font-size="53.64" font-weight="700" fill="#999999" stroke="#999999" stroke-width="0.92" stroke-linejoin="miter">9</text>
<path fill-rule="evenodd" d="M273.08 607.00H274.73A4.33 4.33 0 0 1 279.06 611.33V618.85A4.33 4.33 0 0 1 274.73 623.18H273.08A4.33 4.33 0 0 1 268.75 618.85V611.33A4.33 4.33 0 0 1 273.08 607.00ZM273.91 610.47H273.91A1.68 1.68 0 0 1 275.59 612.16V618.03A1.68 1.68 0 0 1 273.91 619.71H273.91A1.68 1.68 0 0 1 272.22 618.03V612.16A1.68 1.68 0 0 1 273.91 610.47ZM287.92 629.82H289.57A4.33 4.33 0 0 1 293.90 634.15V641.67A4.33 4.33 0 0 1 289.57 646.00H287.92A4.33 4.33 0 0 1 283.59 641.67V634.15A4.33 4.33 0 0 1 287.92 629.82ZM288.74 633.29H288.74A1.68 1.68 0 0 1 290.43 634.97V640.84A1.68 1.68 0 0 1 288.74 642.53H288.74A1.68 1.68 0 0 1 287.06 640.84V634.97A1.68 1.68 0 0 1 288.74 633.29ZM270.69 646.00L274.53 646.00L291.96 607.00L288.74 607.00Z" fill="#999999"/>
<path d="M374.30 611.68L377.15 607.00L380.55 607.00L380.55 646.00L374.30 646.00Z" fill="#999999"/>
<text transform="matrix(0.7372 0 0 1 384.45 645.54)" font-size="54.40" font-weight="700" fill="#999999" stroke="#999999" stroke-width="0.92" stroke-linejoin="miter">2</text>
<path fill-rule="evenodd" d="M413.00 607.00H414.68A4.41 4.41 0 0 1 419.09 611.41V618.77A4.41 4.41 0 0 1 414.68 623.18H413.00A4.41 4.41 0 0 1 408.59 618.77V611.41A4.41 4.41 0 0 1 413.00 607.00ZM413.84 610.47H413.84A1.78 1.78 0 0 1 415.62 612.25V617.93A1.78 1.78 0 0 1 413.84 619.71H413.84A1.78 1.78 0 0 1 412.06 617.93V612.25A1.78 1.78 0 0 1 413.84 610.47ZM428.11 629.82H429.79A4.41 4.41 0 0 1 434.20 634.23V641.59A4.41 4.41 0 0 1 429.79 646.00H428.11A4.41 4.41 0 0 1 423.70 641.59V634.23A4.41 4.41 0 0 1 428.11 629.82ZM428.95 633.29H428.95A1.78 1.78 0 0 1 430.73 635.07V640.75A1.78 1.78 0 0 1 428.95 642.53H428.95A1.78 1.78 0 0 1 427.17 640.75V635.07A1.78 1.78 0 0 1 428.95 633.29ZM410.56 646.00L414.48 646.00L432.23 607.00L428.95 607.00Z" fill="#999999"/>
<text transform="matrix(0.7300 0 0 1 522.87 641.09)" font-size="54.46" font-weight="700" fill="#999999" stroke="#999999" stroke-width="0.93" stroke-linejoin="miter">6</text>
<path fill-rule="evenodd" d="M551.46 602.50H553.14A4.42 4.42 0 0 1 557.56 606.92V614.51A4.42 4.42 0 0 1 553.14 618.93H551.46A4.42 4.42 0 0 1 547.04 614.51V606.92A4.42 4.42 0 0 1 551.46 602.50ZM552.30 606.02H552.30A1.74 1.74 0 0 1 554.03 607.76V613.67A1.74 1.74 0 0 1 552.30 615.41H552.30A1.74 1.74 0 0 1 550.56 613.67V607.76A1.74 1.74 0 0 1 552.30 606.02ZM566.60 625.67H568.28A4.42 4.42 0 0 1 572.70 630.09V637.68A4.42 4.42 0 0 1 568.28 642.10H566.60A4.42 4.42 0 0 1 562.18 637.68V630.09A4.42 4.42 0 0 1 566.60 625.67ZM567.44 629.19H567.44A1.74 1.74 0 0 1 569.18 630.93V636.84A1.74 1.74 0 0 1 567.44 638.58H567.44A1.74 1.74 0 0 1 565.70 636.84V630.93A1.74 1.74 0 0 1 567.44 629.19ZM549.01 642.10L552.94 642.10L570.72 602.50L567.44 602.50Z" fill="#999999"/>
<text transform="matrix(0.6911 0 0 1 58.34 737.20)" font-size="21.00" letter-spacing="0.84" fill="#4b2f40">Poprzez wspólnie</text>
<text transform="matrix(0.6882 0 0 1 68.17 758.50)" font-size="21.00" letter-spacing="0.84" fill="#4b2f40">spędzony czas</text>
<text transform="matrix(0.6828 0 0 1 234.15 705.90)" font-size="21.00" letter-spacing="0.84" fill="#4b2f40">Poprzez</text>
<text transform="matrix(0.6984 0 0 1 210.81 727.80)" font-size="21.00" letter-spacing="0.84" fill="#4b2f40">doświadczenie</text>
<text transform="matrix(0.6920 0 0 1 202.92 749.40)" font-size="21.00" letter-spacing="0.84" fill="#4b2f40">emocjonalne, jak</text>
<text transform="matrix(0.6880 0 0 1 226.20 771.60)" font-size="21.00" letter-spacing="0.84" fill="#4b2f40">wyjazd lub</text>
<text transform="matrix(0.7261 0 0 1 228.00 792.90)" font-size="21.00" letter-spacing="0.84" fill="#4b2f40">warsztaty</text>
<text transform="matrix(0.6901 0 0 1 349.14 740.80)" font-size="21.00" letter-spacing="0.84" fill="#4b2f40">Poprzez słowa</text>
<text transform="matrix(0.7056 0 0 1 369.00 762.40)" font-size="21.00" letter-spacing="0.84" fill="#4b2f40">wsparcia</text>
<text transform="matrix(0.6901 0 0 1 489.04 710.40)" font-size="21.00" letter-spacing="0.84" fill="#4b2f40">Poprzez osobisty</text>
<text transform="matrix(0.7196 0 0 1 490.02 732.50)" font-size="21.00" letter-spacing="0.84" fill="#4b2f40">przedmiot, który</text>
<text transform="matrix(0.6966 0 0 1 506.15 754.60)" font-size="21.00" letter-spacing="0.84" fill="#4b2f40">ma dla mnie</text>
<text transform="matrix(0.6947 0 0 1 509.76 776.30)" font-size="21.00" letter-spacing="0.84" fill="#4b2f40">szczególne</text>
<text transform="matrix(0.6909 0 0 1 513.82 798.10)" font-size="21.00" letter-spacing="0.84" fill="#4b2f40">znaczenie</text>
<text transform="matrix(0.6084 0 0 1 651.19 559.02)" font-size="20.20" letter-spacing="2.02" fill="#b3ab96" stroke="#b3ab96" stroke-width="0.55" vector-effect="non-scaling-stroke">KTÓRY NIESTANDARDOWY PREZENT WYBRAŁABYŚ NAJCHĘTNIEJ?</text>
<rect x="644.50" y="572.50" width="478.50" height="72.50" fill="url(#gPL)" />
<rect x="640.00" y="653.00" width="238.00" height="72.00" fill="url(#gLP)" />
<rect x="885.00" y="653.00" width="238.00" height="72.00" fill="url(#gLP)" />
<rect x="646.00" y="733.50" width="232.00" height="72.00" fill="url(#gPL)" />
<rect x="886.00" y="733.50" width="237.00" height="72.00" fill="url(#gPL)" />
<text transform="matrix(0.7078 0 0 1 772.24 625.51)" font-size="58.73" font-weight="700" fill="#8f8f8f" stroke="#8f8f8f" stroke-width="1.00" stroke-linejoin="miter">3</text>
<path d="M799.53 589.02L802.65 583.90L806.22 583.90L806.22 626.60L799.53 626.60Z" fill="#8f8f8f"/>
<path fill-rule="evenodd" d="M816.32 583.90H818.12A4.72 4.72 0 0 1 822.84 588.62V596.90A4.72 4.72 0 0 1 818.12 601.62H816.32A4.72 4.72 0 0 1 811.61 596.90V588.62A4.72 4.72 0 0 1 816.32 583.90ZM817.22 587.70H817.22A1.82 1.82 0 0 1 819.04 589.52V596.01A1.82 1.82 0 0 1 817.22 597.82H817.22A1.82 1.82 0 0 1 815.41 596.01V589.52A1.82 1.82 0 0 1 817.22 587.70ZM832.49 608.88H834.28A4.72 4.72 0 0 1 839.00 613.60V621.88A4.72 4.72 0 0 1 834.28 626.60H832.49A4.72 4.72 0 0 1 827.77 621.88V613.60A4.72 4.72 0 0 1 832.49 608.88ZM833.38 612.68H833.38A1.82 1.82 0 0 1 835.20 614.49V620.98A1.82 1.82 0 0 1 833.38 622.80H833.38A1.82 1.82 0 0 1 831.57 620.98V614.49A1.82 1.82 0 0 1 833.38 612.68ZM813.72 626.60L817.91 626.60L836.89 583.90L833.38 583.90Z" fill="#8f8f8f"/>
<text transform="matrix(0.7148 0 0 1 683.57 703.26)" font-size="40.87" font-weight="700" fill="#8f8f8f" stroke="#8f8f8f" stroke-width="0.69" stroke-linejoin="miter">2</text>
<text transform="matrix(0.7031 0 0 1 700.65 702.85)" font-size="40.30" font-weight="700" fill="#8f8f8f" stroke="#8f8f8f" stroke-width="0.69" stroke-linejoin="miter">3</text>
<path fill-rule="evenodd" d="M721.14 674.30H722.37A3.22 3.22 0 0 1 725.58 677.52V683.24A3.22 3.22 0 0 1 722.37 686.46H721.14A3.22 3.22 0 0 1 717.93 683.24V677.52A3.22 3.22 0 0 1 721.14 674.30ZM721.75 676.91H721.75A1.22 1.22 0 0 1 722.97 678.13V682.63A1.22 1.22 0 0 1 721.75 683.85H721.75A1.22 1.22 0 0 1 720.53 682.63V678.13A1.22 1.22 0 0 1 721.75 676.91ZM732.16 691.44H733.38A3.22 3.22 0 0 1 736.60 694.66V700.38A3.22 3.22 0 0 1 733.38 703.60H732.16A3.22 3.22 0 0 1 728.94 700.38V694.66A3.22 3.22 0 0 1 732.16 691.44ZM732.77 694.05H732.77A1.22 1.22 0 0 1 733.99 695.27V699.77A1.22 1.22 0 0 1 732.77 700.99H732.77A1.22 1.22 0 0 1 731.55 699.77V695.27A1.22 1.22 0 0 1 732.77 694.05ZM719.36 703.60L722.22 703.60L735.16 674.30L732.77 674.30Z" fill="#8f8f8f"/>
<path d="M935.50 678.23L937.59 674.80L940.22 674.80L940.22 703.40L935.50 703.40Z" fill="#8f8f8f"/>
<text transform="matrix(0.7467 0 0 1 943.33 702.67)" font-size="39.33" font-weight="700" fill="#8f8f8f" stroke="#8f8f8f" stroke-width="0.67" stroke-linejoin="miter">8</text>
<path fill-rule="evenodd" d="M964.70 674.80H965.97A3.33 3.33 0 0 1 969.30 678.13V683.34A3.33 3.33 0 0 1 965.97 686.67H964.70A3.33 3.33 0 0 1 961.37 683.34V678.13A3.33 3.33 0 0 1 964.70 674.80ZM965.33 677.35H965.33A1.42 1.42 0 0 1 966.75 678.76V682.71A1.42 1.42 0 0 1 965.33 684.12H965.33A1.42 1.42 0 0 1 963.92 682.71V678.76A1.42 1.42 0 0 1 965.33 677.35ZM976.10 691.53H977.37A3.33 3.33 0 0 1 980.70 694.86V700.07A3.33 3.33 0 0 1 977.37 703.40H976.10A3.33 3.33 0 0 1 972.78 700.07V694.86A3.33 3.33 0 0 1 976.10 691.53ZM976.74 694.08H976.74A1.42 1.42 0 0 1 978.15 695.49V699.44A1.42 1.42 0 0 1 976.74 700.85H976.74A1.42 1.42 0 0 1 975.32 699.44V695.49A1.42 1.42 0 0 1 976.74 694.08ZM962.86 703.40L965.82 703.40L979.21 674.80L976.74 674.80Z" fill="#8f8f8f"/>
<path d="M685.80 757.46L687.90 754.00L690.44 754.00L690.44 782.80L685.80 782.80Z" fill="#8f8f8f"/>
<text transform="matrix(0.7121 0 0 1 693.52 782.06)" font-size="40.17" font-weight="700" fill="#8f8f8f" stroke="#8f8f8f" stroke-width="0.68" stroke-linejoin="miter">5</text>
<path fill-rule="evenodd" d="M714.55 754.00H715.80A3.28 3.28 0 0 1 719.07 757.28V762.68A3.28 3.28 0 0 1 715.80 765.95H714.55A3.28 3.28 0 0 1 711.27 762.68V757.28A3.28 3.28 0 0 1 714.55 754.00ZM715.17 756.56H715.17A1.34 1.34 0 0 1 716.51 757.90V762.05A1.34 1.34 0 0 1 715.17 763.39H715.17A1.34 1.34 0 0 1 713.83 762.05V757.90A1.34 1.34 0 0 1 715.17 756.56ZM725.77 770.85H727.02A3.28 3.28 0 0 1 730.30 774.12V779.52A3.28 3.28 0 0 1 727.02 782.80H725.77A3.28 3.28 0 0 1 722.50 779.52V774.12A3.28 3.28 0 0 1 725.77 770.85ZM726.40 773.41H726.40A1.34 1.34 0 0 1 727.74 774.75V778.90A1.34 1.34 0 0 1 726.40 780.24H726.40A1.34 1.34 0 0 1 725.06 778.90V774.75A1.34 1.34 0 0 1 726.40 773.41ZM712.74 782.80L715.65 782.80L728.83 754.00L726.40 754.00Z" fill="#8f8f8f"/>
<path d="M936.20 757.46L938.30 754.00L940.84 754.00L940.84 782.80L936.20 782.80Z" fill="#8f8f8f"/>
<text transform="matrix(0.7296 0 0 1 944.06 782.07)" font-size="39.61" font-weight="700" fill="#8f8f8f" stroke="#8f8f8f" stroke-width="0.68" stroke-linejoin="miter">3</text>
<path fill-rule="evenodd" d="M964.95 754.00H966.20A3.28 3.28 0 0 1 969.47 757.28V762.68A3.28 3.28 0 0 1 966.20 765.95H964.95A3.28 3.28 0 0 1 961.67 762.68V757.28A3.28 3.28 0 0 1 964.95 754.00ZM965.57 756.56H965.57A1.34 1.34 0 0 1 966.91 757.90V762.05A1.34 1.34 0 0 1 965.57 763.39H965.57A1.34 1.34 0 0 1 964.23 762.05V757.90A1.34 1.34 0 0 1 965.57 756.56ZM976.17 770.85H977.42A3.28 3.28 0 0 1 980.70 774.12V779.52A3.28 3.28 0 0 1 977.42 782.80H976.17A3.28 3.28 0 0 1 972.90 779.52V774.12A3.28 3.28 0 0 1 976.17 770.85ZM976.80 773.41H976.80A1.34 1.34 0 0 1 978.14 774.75V778.90A1.34 1.34 0 0 1 976.80 780.24H976.80A1.34 1.34 0 0 1 975.46 778.90V774.75A1.34 1.34 0 0 1 976.80 773.41ZM963.14 782.80L966.05 782.80L979.23 754.00L976.80 754.00Z" fill="#8f8f8f"/>
<text transform="matrix(0.6663 0 0 1 867.78 613.90)" font-size="21.00" letter-spacing="0.84" fill="#e86ab9">Lot balonem</text>
<text transform="matrix(0.6611 0 0 1 767.59 693.70)" font-size="21.00" letter-spacing="0.84" fill="#e86ab9">Masaż</text>
<text transform="matrix(0.6732 0 0 1 1015.73 686.60)" font-size="21.00" letter-spacing="0.84" fill="#e86ab9">Warsztaty</text>
<text transform="matrix(0.6844 0 0 1 1015.23 705.80)" font-size="21.00" letter-spacing="0.84" fill="#e86ab9">ceramiczne</text>
<text transform="matrix(0.6656 0 0 1 765.43 765.70)" font-size="21.00" letter-spacing="0.84" fill="#e86ab9">Voucher</text>
<text transform="matrix(0.6098 0 0 1 764.99 785.20)" font-size="21.00" letter-spacing="0.84" fill="#e86ab9">do SPA</text>
<text transform="matrix(0.6578 0 0 1 1015.39 765.70)" font-size="21.00" letter-spacing="0.84" fill="#e86ab9">Kolację</text>
<text transform="matrix(0.6764 0 0 1 1016.50 785.20)" font-size="21.00" letter-spacing="0.84" fill="#e86ab9">w ciemności</text>
</svg></body></html>
